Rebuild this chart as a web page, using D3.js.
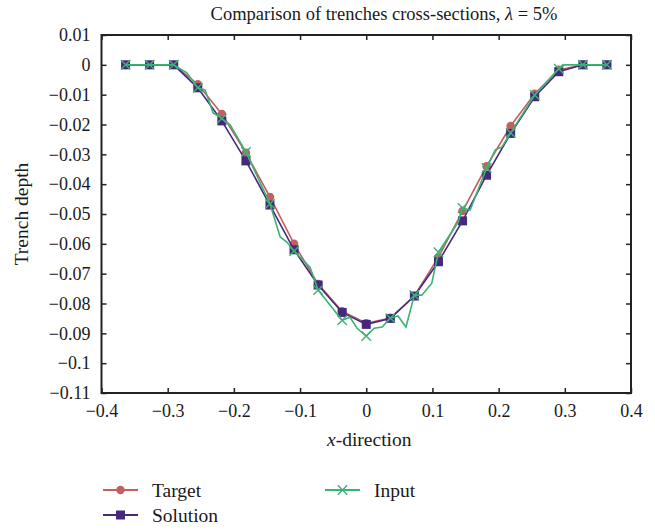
<!DOCTYPE html>
<html>
<head>
<meta charset="utf-8">
<script src="https://cdn.jsdelivr.net/npm/d3@7"></script>
<style>
  body { margin: 0; background: #fff; }
  svg text { font-family: "Liberation Serif", "DejaVu Serif", serif; fill: #1a1a1a; }
</style>
</head>
<body>
<svg id="chart" width="655" height="531"></svg>
<script>
// main sample positions (shared by Target and Solution, and Input markers)
const xGrid = [-0.3636, -0.3273, -0.2909, -0.2545, -0.2182, -0.1818, -0.1455, -0.1091, -0.0727, -0.0364,
  0, 0.0364, 0.0727, 0.1091, 0.1455, 0.1818, 0.2182, 0.2545, 0.2909, 0.3273, 0.3636];

const targetY = [0, 0, 0, -0.0065, -0.0165, -0.0295, -0.0443, -0.0600, -0.0735, -0.0826,
  -0.0866, -0.0849, -0.0775, -0.0645, -0.0490, -0.0340, -0.0205, -0.0097, -0.0017, 0, 0];

const solutionY = [0, 0, 0, -0.0077, -0.0188, -0.0322, -0.0470, -0.0620, -0.0738, -0.0830,
  -0.0870, -0.0850, -0.0775, -0.0660, -0.0523, -0.0370, -0.0230, -0.0107, -0.0023, 0, 0];

// input profile is sampled finer than the grid
const inputX = [-0.3636, -0.3273, -0.2909, -0.271, -0.2545, -0.2435, -0.2314, -0.221, -0.2182, -0.2057,
  -0.1818, -0.1455, -0.130, -0.120, -0.1091, -0.085, -0.0727, -0.0364, -0.0245, -0.014,
  0, 0.012, 0.024, 0.0364, 0.048, 0.060, 0.0727, 0.084, 0.099, 0.1091,
  0.139, 0.1455, 0.157, 0.1818, 0.195, 0.205, 0.2182, 0.2545, 0.2909, 0.300, 0.3273, 0.3636];
const inputY = [0, 0, 0, -0.0027, -0.0077, -0.0084, -0.0161, -0.0175, -0.0180, -0.0201,
  -0.0292, -0.0466, -0.0577, -0.0594, -0.0624, -0.0678, -0.0755, -0.0856, -0.0846, -0.0883,
  -0.0909, -0.0883, -0.0879, -0.0849, -0.0842, -0.0879, -0.0772, -0.0772, -0.0732, -0.0628,
  -0.0527, -0.0480, -0.0487, -0.0346, -0.0285, -0.0275, -0.0228, -0.0101, -0.0013, 0, 0, 0];

const xTicks = [-0.4, -0.3, -0.2, -0.1, 0, 0.1, 0.2, 0.3, 0.4];
const yTicks = [0.01, 0, -0.01, -0.02, -0.03, -0.04, -0.05, -0.06, -0.07, -0.08, -0.09, -0.1, -0.11];

const colors = { target: "#c1605e", solution: "#47287f", input: "#3db274" };
const serif = "'Liberation Serif', 'DejaVu Serif', serif";

const svg = d3.select("#chart");
const margin = { top: 35, left: 101.5, right: 24, bottom: 138 };
const width = 655 - margin.left - margin.right,
  height = 531 - margin.top - margin.bottom;

const g = svg.append("g").attr("transform", `translate(${margin.left},${margin.top})`);

const x = d3.scaleLinear().domain([-0.4, 0.4]).range([0, width]);
const y = d3.scaleLinear().domain([-0.11, 0.01]).range([height, 0]);

const fmt = v => (v === 0 ? "0" : String(+v.toFixed(2)).replace("-", "\u2212"));

// axes with inward ticks on all sides
const axisStyle = sel => {
  sel.attr("font-family", serif);
  sel.select(".domain").remove();
  sel.selectAll(".tick line").attr("stroke", "#222").attr("stroke-width", 1.5);
  sel.selectAll(".tick text").style("font-size", "18px").style("font-family", serif).attr("fill", "#1a1a1a");
};

g.append("g").attr("transform", `translate(0,${height})`)
  .call(d3.axisBottom(x).tickValues(xTicks).tickSize(-5).tickPadding(11).tickFormat(fmt))
  .call(axisStyle);
g.append("g")
  .call(d3.axisTop(x).tickValues(xTicks).tickSize(-5).tickFormat(""))
  .call(axisStyle);
g.append("g")
  .call(d3.axisLeft(y).tickValues(yTicks).tickSize(-5).tickPadding(11).tickFormat(fmt))
  .call(axisStyle);
g.append("g").attr("transform", `translate(${width},0)`)
  .call(d3.axisRight(y).tickValues(yTicks).tickSize(-5).tickFormat(""))
  .call(axisStyle);

g.append("rect")
  .attr("width", width).attr("height", height)
  .attr("fill", "none").attr("stroke", "#222").attr("stroke-width", 2);

const line = d3.line().x(d => x(d[0])).y(d => y(d[1]));

const targetData = xGrid.map((v, i) => [v, targetY[i]]);
const solutionData = xGrid.map((v, i) => [v, solutionY[i]]);
const inputData = inputX.map((v, i) => [v, inputY[i]]);
const inputMarks = inputData.filter(d => xGrid.some(v => Math.abs(v - d[0]) < 1e-6));

// Target
g.append("path").datum(targetData).attr("d", line)
  .attr("fill", "none").attr("stroke", colors.target).attr("stroke-width", 1.6);
g.selectAll(".tdot").data(targetData).enter().append("circle")
  .attr("cx", d => x(d[0])).attr("cy", d => y(d[1])).attr("r", 4.3)
  .attr("fill", colors.target);

// Solution
g.append("path").datum(solutionData).attr("d", line)
  .attr("fill", "none").attr("stroke", colors.solution).attr("stroke-width", 1.6);
g.selectAll(".sdot").data(solutionData).enter().append("rect")
  .attr("x", d => x(d[0]) - 4.5).attr("y", d => y(d[1]) - 4.5)
  .attr("width", 9).attr("height", 9)
  .attr("fill", colors.solution);

// Input
g.append("path").datum(inputData).attr("d", line)
  .attr("fill", "none").attr("stroke", colors.input).attr("stroke-width", 1.6);
const cross = d3.symbol().type(d3.symbolTimes).size(60);
g.selectAll(".idot").data(inputMarks).enter().append("path")
  .attr("d", cross)
  .attr("transform", d => `translate(${x(d[0])},${y(d[1])})`)
  .attr("fill", "none").attr("stroke", colors.input).attr("stroke-width", 1.4);

// title & labels
const title = svg.append("text").attr("x", 384).attr("y", 20)
  .attr("text-anchor", "middle").style("font-size", "18.5px");
title.append("tspan").text("Comparison of trenches cross-sections, ");
title.append("tspan").style("font-style", "italic").text("\u03bb");
title.append("tspan").text(" = 5%");

const xl = svg.append("text").attr("x", margin.left + width / 2 + 3).attr("y", 446)
  .attr("text-anchor", "middle").style("font-size", "19.5px");
xl.append("tspan").style("font-style", "italic").text("x");
xl.append("tspan").text("-direction");

svg.append("text")
  .attr("transform", `translate(28,${margin.top + height / 2}) rotate(-90)`)
  .attr("text-anchor", "middle").style("font-size", "19.5px")
  .text("Trench depth");

// legend
const legend = [
  { name: "Target", color: colors.target, mark: "circle", lx: 103, ly: 490 },
  { name: "Solution", color: colors.solution, mark: "square", lx: 103, ly: 515 },
  { name: "Input", color: colors.input, mark: "cross", lx: 325, ly: 490 }
];
const lg = svg.selectAll(".leg").data(legend).enter().append("g")
  .attr("transform", d => `translate(${d.lx},${d.ly})`);
lg.append("line").attr("x1", 0).attr("x2", 35)
  .attr("stroke", d => d.color).attr("stroke-width", 1.8);
lg.filter(d => d.mark === "circle").append("circle").attr("cx", 17.5).attr("r", 4.2)
  .attr("fill", d => d.color);
lg.filter(d => d.mark === "square").append("rect").attr("x", 13).attr("y", -4.5)
  .attr("width", 9).attr("height", 9).attr("fill", d => d.color);
lg.filter(d => d.mark === "cross").append("path").attr("d", cross)
  .attr("transform", "translate(17.5,0)")
  .attr("fill", "none").attr("stroke", d => d.color).attr("stroke-width", 1.4);
lg.append("text").attr("x", 49).attr("dy", "0.35em").style("font-size", "19.5px")
  .text(d => d.name);
</script>
</body>
</html>
